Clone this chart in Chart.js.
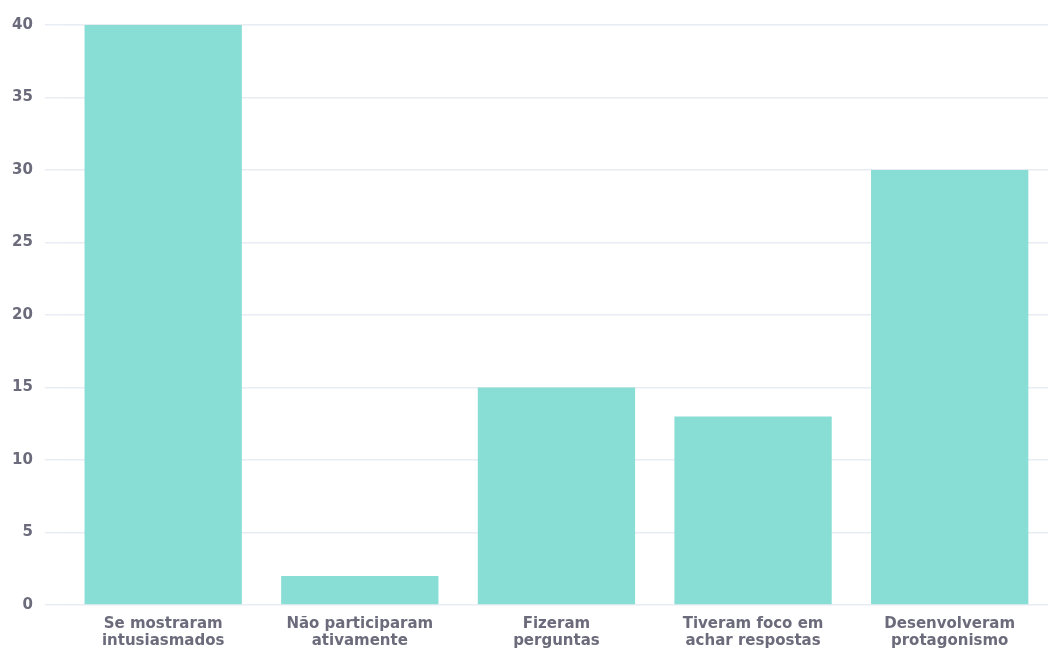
<!DOCTYPE html>
<html>
<head>
<meta charset="utf-8">
<script src="https://cdn.jsdelivr.net/npm/chart.js@4"></script>
<style>
  html, body { margin: 0; padding: 0; background: #fff; }
</style>
</head>
<body>
<canvas id="engajamento" width="1054" height="653"></canvas>
<script>
// Comportamento dos alunos (Bar Chart)
const categorias = [
    ["Se mostraram", "intusiasmados"],
    ["Não participaram", "ativamente"],
    ["Fizeram", "perguntas"],
    ["Tiveram foco em", "achar respostas"],
    ["Desenvolveram", "protagonismo"]
];
const valores = [40, 2, 15, 13, 30];
const yTicks = [0, 5, 10, 15, 20, 25, 30, 35, 40];

new Chart(document.getElementById("engajamento"), {
    type: 'bar',
    data: {
        labels: categorias,
        datasets: [{
            label: "Alunos",
            data: valores,
            backgroundColor: "#88ddd4",
            barPercentage: 0.8,
            categoryPercentage: 1.0
        }]
    },
    options: {
        responsive: false,
        animation: false,
        layout: { padding: { top: 25, right: 6, left: 0, bottom: 0 } },
        plugins: {
            legend: { display: false },
            tooltip: { enabled: false }
        },
        scales: {
            x: {
                grid: { display: false },
                border: { display: false },
                ticks: {
                    color: "#6b6b7b",
                    padding: 3,
                    maxRotation: 0,
                    font: { family: "DejaVu Sans", weight: "bold", size: 15, lineHeight: 1.13 }
                }
            },
            y: {
                min: 0,
                max: 40,
                afterBuildTicks: axis => { axis.ticks = yTicks.map(v => ({ value: v })); },
                grid: { color: "#e8ecf3", lineWidth: 1.5, tickLength: 20 },
                border: { display: false },
                ticks: {
                    color: "#6b6b7b",
                    padding: 12,
                    font: { family: "DejaVu Sans", weight: "bold", size: 15 }
                }
            }
        }
    }
});
</script>
</body>
</html>
